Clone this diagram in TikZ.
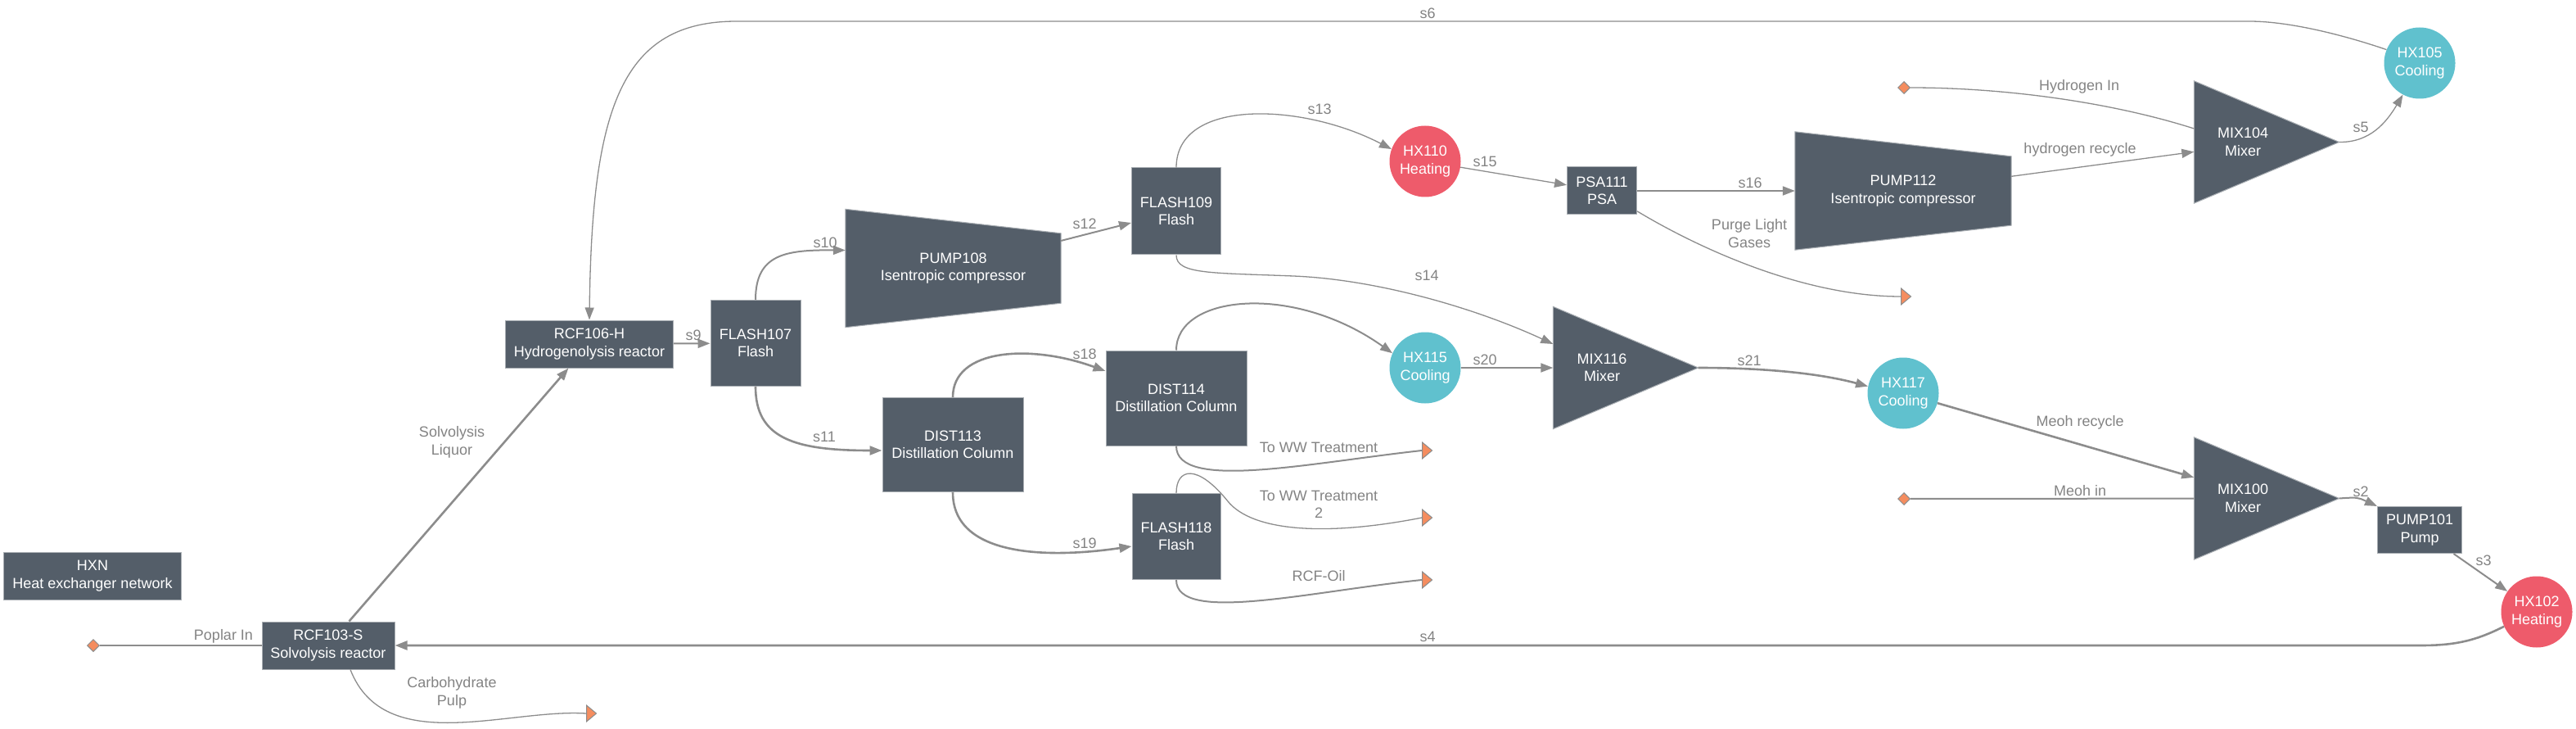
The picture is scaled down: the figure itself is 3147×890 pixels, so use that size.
\documentclass[tikz,border=0pt]{standalone}
\usepackage{fontspec}
\setmainfont{Liberation Sans}
\usetikzlibrary{arrows.meta,shapes.geometric,calc,backgrounds}
\definecolor{unitfill}{HTML}{545E69}
\definecolor{unitline}{HTML}{A9AEB3}
\definecolor{heatred}{HTML}{EE5B6B}
\definecolor{coolcyan}{HTML}{60C1CE}
\definecolor{streamgray}{HTML}{8C8C8C}
\definecolor{labelgray}{HTML}{838383}
\definecolor{portorange}{HTML}{F58D5F}
\begin{document}
\begin{tikzpicture}
  [x=1pt,y=-1pt,
   font=\fontsize{18pt}{21.5pt}\selectfont,
   unit/.style={rectangle,fill=unitfill,draw=unitline,line width=1pt,
     text=white,align=center,inner sep=0pt},
   shapebox/.style={rectangle,text=white,align=center,inner sep=0pt},
   hxheat/.style={circle,fill=heatred,text=white,align=center,
     minimum size=87pt,inner sep=0pt},
   hxcool/.style={hxheat,fill=coolcyan},
   mixbox/.style={rectangle,inner sep=0pt,minimum width=177pt,minimum height=149pt},
   mixtext/.style={text=white,align=center,inner sep=0pt,xshift=-29pt},
   source/.style={diamond,aspect=1,fill=portorange,draw=streamgray,line width=1pt,
     minimum width=15pt,minimum height=15pt,inner sep=0pt},
   sink/.style={isosceles triangle,isosceles triangle stretches,fill=portorange,
     draw=streamgray,line width=1pt,minimum width=20pt,minimum height=12pt,
     inner sep=0pt,anchor=west},
   lbl/.style={text=labelgray,align=center,inner sep=0pt},
   pipe/.style={draw=streamgray,line width=2pt},
   flow/.style={pipe,-{Triangle[length=15pt,width=11pt]}},
   heavy/.style={line width=2.6pt},
   light/.style={line width=1.3pt}]
  \useasboundingbox (0,0) rectangle (3147,890);

  % units
  \node[unit,minimum width=217pt,minimum height=58pt] (HXN) at (113,703) {HXN\\Heat exchanger network};
  \node[unit,minimum width=162pt,minimum height=58pt] (RCF103S) at (401,788) {RCF103-S\\Solvolysis reactor};
  \node[unit,minimum width=205pt,minimum height=58pt] (RCF106H) at (720,420) {RCF106-H\\Hydrogenolysis reactor};
  \node[unit,minimum width=110pt,minimum height=105pt] (FLASH107) at (923,419) {FLASH107\\Flash};
  \node[shapebox,minimum width=263pt,minimum height=144pt] (PUMP108) at (1164.5,327.5) {PUMP108\\Isentropic compressor};
  \node[unit,minimum width=109pt,minimum height=106pt] (FLASH109) at (1437,258) {FLASH109\\Flash};
  \node[hxheat] (HX110) at (1741,197) {HX110\\Heating};
  \node[unit,minimum width=85pt,minimum height=58pt] (PSA111) at (1957,233) {PSA111\\PSA};
  \node[shapebox,minimum width=264pt,minimum height=144pt] (PUMP112) at (2325,233) {PUMP112\\Isentropic compressor};
  \node[mixbox,label={[mixtext]center:{MIX104\\Mixer}}] (MIX104) at (2769,173.5) {};
  \node[hxcool] (HX105) at (2956,77) {HX105\\Cooling};
  \node[unit,minimum width=172pt,minimum height=115pt] (DIST113) at (1164,543) {DIST113\\Distillation Column};
  \node[unit,minimum width=172pt,minimum height=116pt] (DIST114) at (1437,486) {DIST114\\Distillation Column};
  \node[unit,minimum width=108pt,minimum height=105pt] (FLASH118) at (1437,655) {FLASH118\\Flash};
  \node[hxcool] (HX115) at (1741,449) {HX115\\Cooling};
  \node[mixbox,label={[mixtext]center:{MIX116\\Mixer}}] (MIX116) at (1986,449) {};
  \node[hxcool] (HX117) at (2325,480) {HX117\\Cooling};
  \node[mixbox,label={[mixtext]center:{MIX100\\Mixer}}] (MIX100) at (2769,608.5) {};
  \node[unit,minimum width=103pt,minimum height=57pt] (PUMP101) at (2956,647) {PUMP101\\Pump};
  \node[hxheat] (HX102) at (3099,747) {HX102\\Heating};

  % feeds and products
  \node[source] (SRCpoplar) at (114,788) {};
  \node[source] (SRChydrogen) at (2326,107) {};
  \node[source] (SRCmeoh) at (2326,609) {};
  \node[sink] (SNKpulp) at (716,871) {};
  \node[sink] (SNKww) at (1737,550) {};
  \node[sink] (SNKwwtwo) at (1737,632) {};
  \node[sink] (SNKoil) at (1737,708) {};
  \node[sink] (SNKpurge) at (2322,362) {};

  \begin{pgfonlayer}{background}
    \filldraw[fill=unitfill,draw=unitline,line width=1pt]
      (PUMP108.north west) -- ($(PUMP108.north east)+(0,29.5)$)
      -- ($(PUMP108.south east)+(0,-29.5)$) -- (PUMP108.south west) -- cycle;
    \filldraw[fill=unitfill,draw=unitline,line width=1pt]
      (PUMP112.north west) -- ($(PUMP112.north east)+(0,30)$)
      -- ($(PUMP112.south east)+(0,-30)$) -- (PUMP112.south west) -- cycle;
    \filldraw[fill=unitfill,draw=unitline,line width=1pt]
      (MIX104.north west) -- (MIX104.east) -- (MIX104.south west) -- cycle;
    \filldraw[fill=unitfill,draw=unitline,line width=1pt]
      (MIX116.north west) -- (MIX116.east) -- (MIX116.south west) -- cycle;
    \filldraw[fill=unitfill,draw=unitline,line width=1pt]
      (MIX100.north west) -- (MIX100.east) -- (MIX100.south west) -- cycle;
  \end{pgfonlayer}

  % streams
  \draw[pipe] (SRCpoplar) -- (RCF103S);
  \draw[flow,heavy] (RCF103S) -- (RCF106H);
  \draw[pipe,light] ($(RCF103S.south)+(27,0)$) .. controls (470,925) and (620,865) .. (SNKpulp.west);
  \draw[flow] (RCF106H) -- (FLASH107);
  \draw[flow] (FLASH107.north) .. controls (923,310) and (960,305) .. ($(PUMP108.west)+(0,-22)$);
  \draw[flow,heavy] (FLASH107.south) .. controls (923,535) and (970,550) .. ($(DIST113.west)+(0,7)$);
  \draw[flow] (PUMP108) -- (FLASH109);
  \draw[flow,light] (FLASH109.north) .. controls (1437,120) and (1590,125) .. (HX110.160);
  \draw[flow,light] (FLASH109.south) .. controls (1437,335) and (1480,333) .. (1580,337)
    .. controls (1680,341) and (1800,375) .. ($(MIX116.west)+(0,-29)$);
  \draw[flow,light] (HX110) -- (PSA111);
  \draw[flow] (PSA111) -- (PUMP112);
  \draw[pipe,light] (PSA111.-30) .. controls (2070,300) and (2200,362) .. (SNKpurge.west);
  \draw[flow,light] (PUMP112) -- (MIX104);
  \draw[pipe,light] (SRChydrogen) .. controls (2450,107) and (2580,125) .. ($(MIX104.west)+(0,-16.5)$);
  \draw[flow,light] (MIX104.east) .. controls (2895,174) and (2915,150) .. (HX105.242);
  \draw[flow,light] (HX105.158) .. controls (2870,45) and (2800,26) .. (2748,26)
    -- (900,26) .. controls (760,26) and (723,130) .. (RCF106H.north);
  \draw[flow,heavy] (DIST113.north) .. controls (1164,425) and (1260,420) .. ($(DIST114.west)+(0,-33)$);
  \draw[flow,heavy] (DIST113.south) .. controls (1164,680) and (1280,682) .. ($(FLASH118.west)+(0,12)$);
  \draw[flow] (DIST114.north) .. controls (1437,360) and (1580,345) .. (HX115.156);
  \draw[pipe] (DIST114.south) .. controls (1437,600) and (1600,565) .. (SNKww.west);
  \draw[pipe,light] (FLASH118.north) .. controls (1437,572) and (1462,565) .. (1500,612)
    .. controls (1530,649) and (1620,655) .. (SNKwwtwo.west);
  \draw[pipe] (FLASH118.south) .. controls (1437,762) and (1600,722) .. (SNKoil.west);
  \draw[flow] (HX115) -- (MIX116);
  \draw[flow,heavy] (MIX116.east) .. controls (2150,449) and (2220,455) .. (HX117.169);
  \draw[flow,heavy] (HX117) -- (MIX100);
  \draw[pipe] (SRCmeoh) -- (MIX100);
  \draw[flow] (MIX100.east) .. controls (2880,607) .. (PUMP101.north west);
  \draw[flow] (PUMP101) -- (HX102);
  \draw[flow,heavy] (HX102.204) .. controls (3025,782) and (3000,788) .. (2957,788) -- (RCF103S.east);

  % stream labels
  \node[lbl] (Lpoplar) at (273,777) {Poplar In};
  \node[lbl] (Lliquor) at (552,540) {Solvolysis\\Liquor};
  \node[lbl] (Lpulp) at (552,846) {Carbohydrate\\Pulp};
  \node[lbl] (Ls9) at (847,409) {s9};
  \node[lbl] (Ls10) at (1008,296) {s10};
  \node[lbl] (Ls11) at (1007,533) {s11};
  \node[lbl] (Ls12) at (1325,273) {s12};
  \node[lbl] (Ls13) at (1612,133) {s13};
  \node[lbl] (Ls14) at (1743,336) {s14};
  \node[lbl] (Ls15) at (1814,197) {s15};
  \node[lbl] (Ls16) at (2138,223) {s16};
  \node[lbl] (Lpurge) at (2137,285) {Purge Light\\Gases};
  \node[lbl] (Ls18) at (1325,432) {s18};
  \node[lbl] (Ls19) at (1325,663) {s19};
  \node[lbl] (Ls20) at (1814,439) {s20};
  \node[lbl] (Ls21) at (2137,440) {s21};
  \node[lbl] (Lww) at (1611,546) {To WW Treatment};
  \node[lbl] (Lwwtwo) at (1611,616) {To WW Treatment\\2};
  \node[lbl] (Loil) at (1611,703) {RCF-Oil};
  \node[lbl] (Lhydrogen) at (2540,106) {Hydrogen In};
  \node[lbl] (Lhrecycle) at (2541,183) {hydrogen recycle};
  \node[lbl] (Ls5) at (2884,155) {s5};
  \node[lbl] (Ls6) at (1744,16) {s6};
  \node[lbl] (Lmrecycle) at (2541,516) {Meoh recycle};
  \node[lbl] (Lmeoh) at (2541,599) {Meoh in};
  \node[lbl] (Ls2) at (2884,600) {s2};
  \node[lbl] (Ls3) at (3034,684) {s3};
  \node[lbl] (Ls4) at (1744,777) {s4};
\end{tikzpicture}
\end{document}
